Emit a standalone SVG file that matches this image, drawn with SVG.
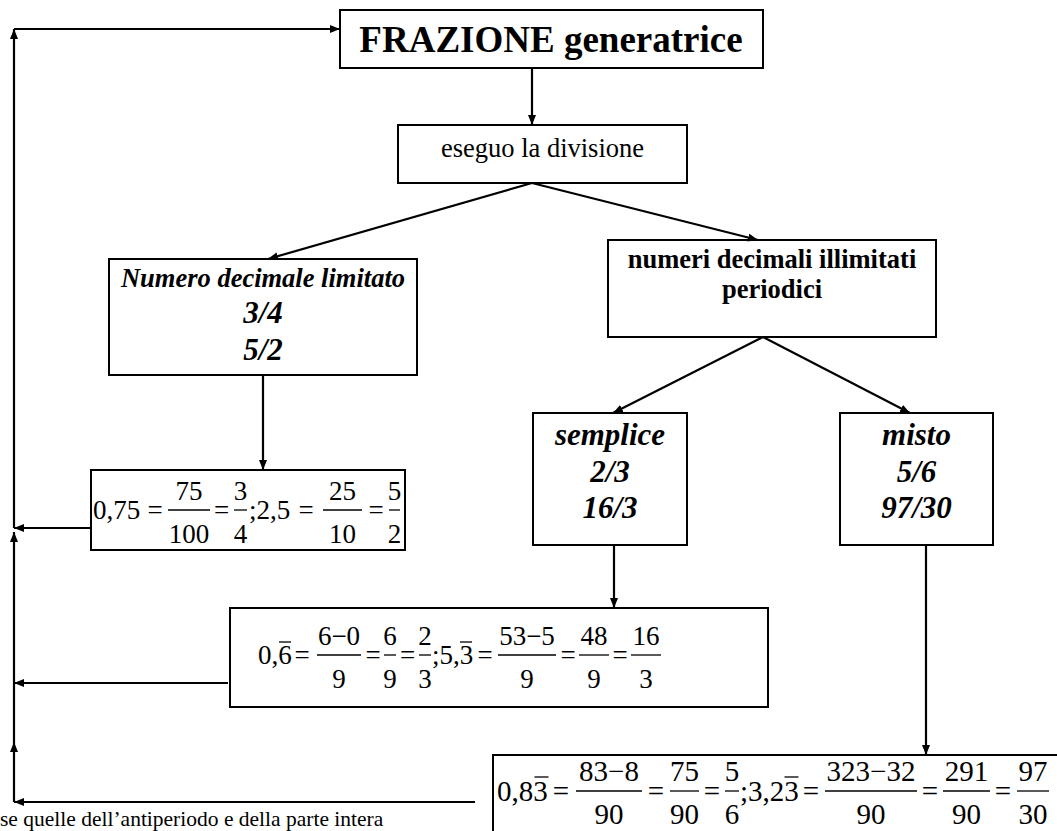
<svg xmlns="http://www.w3.org/2000/svg" width="1057" height="831" viewBox="0 0 1057 831">
<style>
.t{font-family:"Liberation Serif","Times New Roman",serif;fill:#000}
.b{font-weight:bold}
.bi{font-weight:bold;font-style:italic}
.box{fill:#fff;stroke:#000;stroke-width:2}
.c{stroke:#000;stroke-width:2.2;fill:none;marker-end:url(#ah)}
.fb{stroke:#000;stroke-width:1.3}
.m{text-anchor:middle}
.f1{font-size:27px}
.f3{font-size:29px}
</style>
<defs>
<marker id="ah" markerUnits="userSpaceOnUse" markerWidth="11" markerHeight="9" refX="10" refY="4" orient="auto">
<path d="M0,0 L10,4 L0,8 z" fill="#000"/>
</marker>
</defs>
<rect width="1057" height="831" fill="#fff"/>

<g id="title">
<rect class="box" x="340" y="10" width="423" height="58"/>
<text class="t b m" x="551" y="52" font-size="37">FRAZIONE generatrice</text>
</g>

<g id="eseguo">
<rect class="box" x="398" y="125" width="289" height="58"/>
<text class="t m" x="542.5" y="157" font-size="26.5">eseguo la divisione</text>
</g>

<g id="limitato">
<rect class="box" x="109" y="259" width="308" height="116"/>
<text class="t bi m" x="263" y="287" font-size="26.5">Numero decimale limitato</text>
<text class="t bi m" x="263" y="323" font-size="31">3/4</text>
<text class="t bi m" x="263" y="360" font-size="31">5/2</text>
</g>

<g id="illimitati">
<rect class="box" x="608" y="240" width="328" height="97"/>
<text class="t b m" x="772" y="268" font-size="26.5">numeri decimali illimitati</text>
<text class="t b m" x="772" y="298" font-size="26.5">periodici</text>
</g>

<g id="semplice">
<rect class="box" x="533" y="413" width="154" height="132"/>
<text class="t bi m" x="610" y="445" font-size="31">semplice</text>
<text class="t bi m" x="610" y="482" font-size="31">2/3</text>
<text class="t bi m" x="610" y="518" font-size="31">16/3</text>
</g>

<g id="misto">
<rect class="box" x="840" y="413" width="153" height="132"/>
<text class="t bi m" x="916.5" y="445" font-size="31">misto</text>
<text class="t bi m" x="916.5" y="482" font-size="31">5/6</text>
<text class="t bi m" x="916.5" y="518" font-size="31">97/30</text>
</g>

<g id="formula-limitato">
<rect class="box" x="91" y="470" width="314" height="80"/>
<g class="t f1">
<text x="93" y="519">0,75</text>
<text class="m" x="155" y="519">=</text>
<text class="m" x="189" y="500">75</text>
<text class="m" x="189" y="543">100</text>
<text class="m" x="221.5" y="519">=</text>
<text class="m" x="240.5" y="500">3</text>
<text class="m" x="240.5" y="543">4</text>
<text x="249" y="519">;2,5</text>
<text class="m" x="306" y="519">=</text>
<text class="m" x="342.5" y="500">25</text>
<text class="m" x="342.5" y="543">10</text>
<text class="m" x="376" y="519">=</text>
<text class="m" x="394.5" y="500">5</text>
<text class="m" x="394.5" y="543">2</text>
</g>
<line class="fb" x1="168" y1="510" x2="210" y2="510"/>
<line class="fb" x1="234" y1="510" x2="247" y2="510"/>
<line class="fb" x1="323" y1="510" x2="362" y2="510"/>
<line class="fb" x1="389" y1="510" x2="400" y2="510"/>
</g>

<g id="formula-semplice">
<rect class="box" x="230" y="608" width="538" height="99"/>
<g class="t f1">
<text x="258" y="664">0,6</text>
<text class="m" x="302" y="664">=</text>
<text class="m" x="339" y="645">6−0</text>
<text class="m" x="339" y="688">9</text>
<text class="m" x="373" y="664">=</text>
<text class="m" x="390" y="645">6</text>
<text class="m" x="390" y="688">9</text>
<text class="m" x="407.5" y="664">=</text>
<text class="m" x="425" y="645">2</text>
<text class="m" x="425" y="688">3</text>
<text x="432" y="664">;5,3</text>
<text class="m" x="485" y="664">=</text>
<text class="m" x="527" y="645">53−5</text>
<text class="m" x="527" y="688">9</text>
<text class="m" x="568" y="664">=</text>
<text class="m" x="594" y="645">48</text>
<text class="m" x="594" y="688">9</text>
<text class="m" x="620" y="664">=</text>
<text class="m" x="646" y="645">16</text>
<text class="m" x="646" y="688">3</text>
</g>
<line class="fb" x1="279" y1="642" x2="291" y2="642"/>
<line class="fb" x1="460" y1="642" x2="472" y2="642"/>
<line class="fb" x1="317" y1="655" x2="361" y2="655"/>
<line class="fb" x1="384" y1="655" x2="396" y2="655"/>
<line class="fb" x1="419" y1="655" x2="431" y2="655"/>
<line class="fb" x1="498" y1="655" x2="556" y2="655"/>
<line class="fb" x1="579" y1="655" x2="609" y2="655"/>
<line class="fb" x1="631" y1="655" x2="661" y2="655"/>
</g>

<g id="formula-misto">
<rect class="box" x="493" y="755" width="570" height="90"/>
<g class="t f3">
<text x="497" y="801">0,83</text>
<text class="m" x="561" y="801">=</text>
<text class="m" x="609" y="781">83−8</text>
<text class="m" x="609" y="824">90</text>
<text class="m" x="656" y="801">=</text>
<text class="m" x="684.5" y="781">75</text>
<text class="m" x="684.5" y="824">90</text>
<text class="m" x="712" y="801">=</text>
<text class="m" x="732" y="781">5</text>
<text class="m" x="732" y="824">6</text>
<text x="740" y="801">;3,23</text>
<text class="m" x="811" y="801">=</text>
<text class="m" x="871" y="781">323−32</text>
<text class="m" x="871" y="824">90</text>
<text class="m" x="930" y="801">=</text>
<text class="m" x="966.5" y="781">291</text>
<text class="m" x="966.5" y="824">90</text>
<text class="m" x="1003" y="801">=</text>
<text class="m" x="1033" y="781">97</text>
<text class="m" x="1033" y="824">30</text>
</g>
<line class="fb" x1="534.5" y1="777" x2="548.5" y2="777"/>
<line class="fb" x1="784.5" y1="777" x2="798.5" y2="777"/>
<line class="fb" x1="576" y1="791" x2="642" y2="791"/>
<line class="fb" x1="670" y1="791" x2="699" y2="791"/>
<line class="fb" x1="725" y1="791" x2="739" y2="791"/>
<line class="fb" x1="825" y1="791" x2="917" y2="791"/>
<line class="fb" x1="943" y1="791" x2="990" y2="791"/>
<line class="fb" x1="1017" y1="791" x2="1049" y2="791"/>
</g>

<g id="note">
<text class="t" x="0" y="826" font-size="21.5">se quelle dell’antiperiodo e della parte intera</text>
</g>

<g id="connectors">
<path class="c" d="M532,68 V125"/>
<path class="c" d="M532,183 L268,259"/>
<path class="c" d="M532,183 L758,240"/>
<path class="c" d="M763,337 L613,413"/>
<path class="c" d="M763,337 L910,413"/>
<path class="c" d="M263,375 V470"/>
<path class="c" d="M614,545 V608"/>
<path class="c" d="M926,545 V755"/>
<path class="c" d="M91,528 H14"/>
<path class="c" d="M228,683 H14"/>
<path class="c" d="M475,802 H14"/>
<path class="c" d="M14,802 V742"/>
<path class="c" d="M14,742 V532"/>
<path class="c" d="M14,528 V29"/>
<path class="c" d="M14,29 H340"/>
</g>
</svg>
